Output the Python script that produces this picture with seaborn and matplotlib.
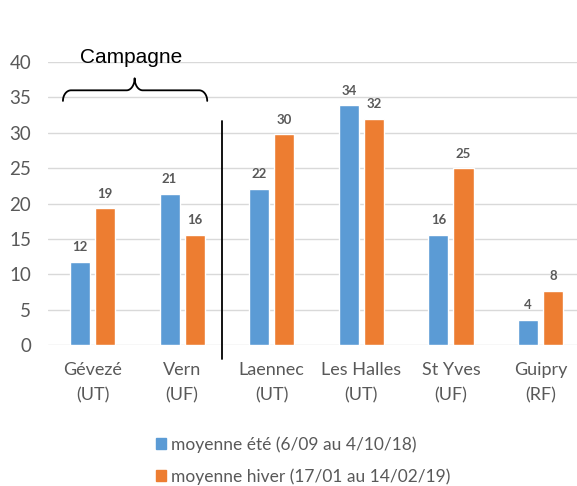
import pandas as pd
import numpy as np
import seaborn as sns
import matplotlib.pyplot as plt
from matplotlib.patches import Patch

# données
sites = ["Gévezé", "Vern", "Laennec", "Les Halles", "St Yves", "Guipry"]
types = ["UT", "UF", "UT", "UT", "UF", "RF"]
ete = [11.8, 21.4, 22.1, 33.9, 15.6, 3.6]
hiver = [19.3, 15.6, 29.8, 32.0, 25.0, 7.7]
series = ["moyenne été (6/09 au 4/10/18)", "moyenne hiver (17/01 au 14/02/19)"]
couleurs = ["#5B9BD5", "#ED7D31"]

labels = [f"{s}\n({t})" for s, t in zip(sites, types)]
df = pd.DataFrame({
    "site": labels * 2,
    "val": ete + hiver,
    "periode": [series[0]] * len(ete) + [series[1]] * len(hiver),
})

sns.set_style("white")
plt.rcParams['font.family'] = ['Lato', 'DejaVu Sans']
gris = "#595959"

fig = plt.figure(figsize=(5.77, 4.86), dpi=100)
ax = fig.add_axes([0.0827, 0.2901, 0.9173, 0.5823])
sns.barplot(data=df, x="site", y="val", hue="periode", palette=couleurs,
            saturation=1, width=0.56, gap=0.2, ax=ax, legend=False)

for c in ax.containers:
    ax.bar_label(c, fmt="%.0f", padding=6, fontsize=9.5, fontweight="bold", color=gris)

ax.set_ylim(0, 40)
ax.set_xlim(-0.5, 5.407)
ax.set_yticks(range(0, 41, 5))
ax.yaxis.grid(True, color="#D9D9D9", lw=1)
ax.set_axisbelow(True)
for s in ax.spines.values():
    s.set_visible(False)
ax.set_xlabel("")
ax.set_ylabel("")
ax.tick_params(axis="y", length=0, pad=12, labelsize=13.5, labelcolor=gris)
ax.tick_params(axis="x", length=0, pad=12, labelsize=13, labelcolor=gris)
for t in ax.get_xticklabels():
    t.set_linespacing(1.7)

# ligne de séparation
ax.plot([1.445, 1.445], [31.6, -2.0], color="black", lw=1.3, clip_on=False)

# accolade "Campagne"
x0, x1, xm = -0.33, 1.28, 0.47
yb, yh, yt = 34.5, 36.0, 37.7
r = 0.09
t = np.linspace(0, np.pi / 2, 20)
bx, by = [], []
bx += list(x0 + r - r * np.cos(t)); by += list(yb + (yh - yb) * np.sin(t))
bx += list(xm - r + r * np.sin(t)); by += list(yh + (yt - yh) * (1 - np.cos(t)))
bx += list(xm + r - r * np.cos(t)); by += list(yh + (yt - yh) * (1 - np.sin(t)))
bx += list(x1 - r + r * np.sin(t)); by += list(yb + (yh - yb) * np.cos(t))
ax.plot(bx, by, color="black", lw=1.3, clip_on=False)
ax.text(xm - 0.04, 40.6, "Campagne", ha="center", va="center", fontsize=15,
        family=["Liberation Sans", "DejaVu Sans"], color="black")

handles = [Patch(color=c) for c in couleurs]
fig.legend(handles, series, loc="upper left", bbox_to_anchor=(0.243, 0.135),
           frameon=False, fontsize=12.5, labelcolor=gris,
           handlelength=0.6, handleheight=0.6, handletextpad=0.3, labelspacing=0.9)

fig.savefig("out.png", dpi=100)
